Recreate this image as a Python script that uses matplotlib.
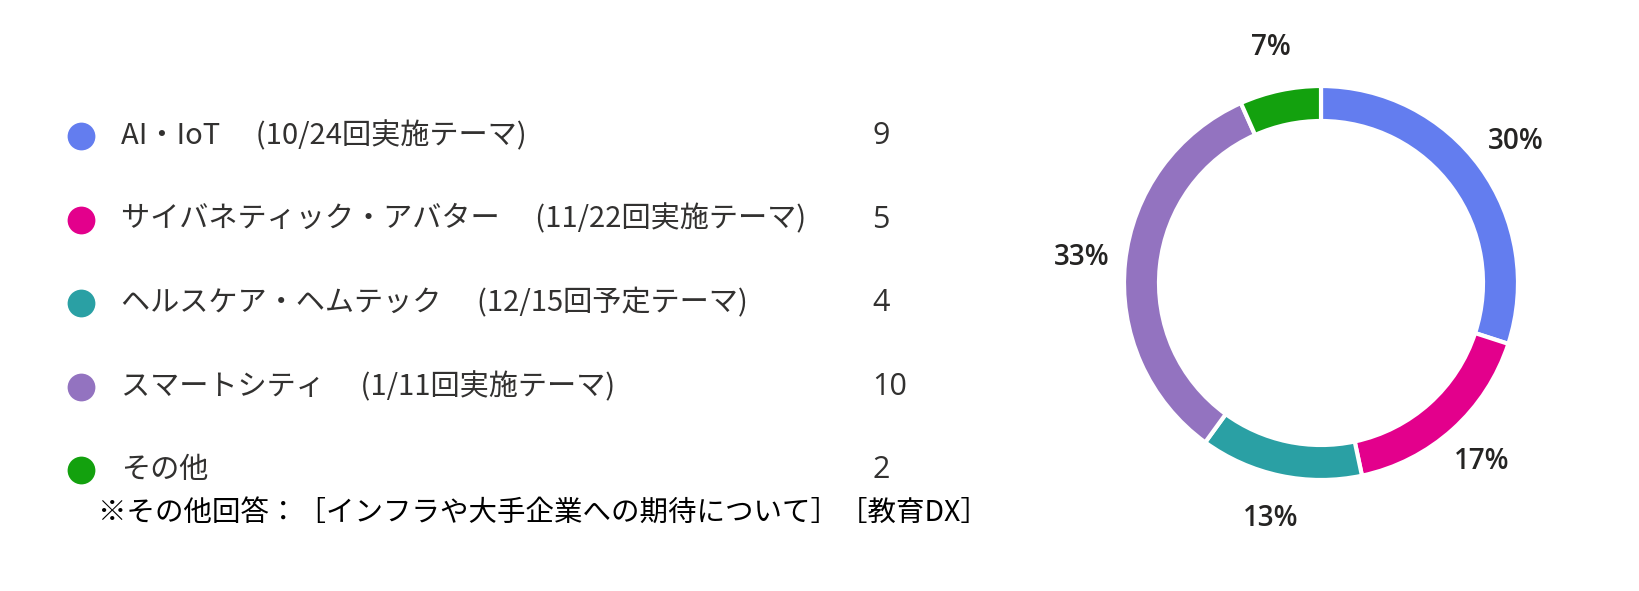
import matplotlib
matplotlib.use("Agg")
import matplotlib.pyplot as plt

plt.rcParams['font.family'] = ['Noto Sans CJK JP', 'DejaVu Sans']

# データ
labels = [
    "AI・IoT　 (10/24回実施テーマ)",
    "サイバネティック・アバター　 (11/22回実施テーマ)",
    "ヘルスケア・ヘムテック　 (12/15回予定テーマ)",
    "スマートシティ　 (1/11回実施テーマ)",
    "その他",
]
counts = [9, 5, 4, 10, 2]
colors = ["#637DEF", "#E3008C", "#2AA0A4", "#9373C0", "#13A10E"]
note = "※その他回答：［インフラや大手企業への期待について］［教育DX］"

W, H = 1639, 591
fig = plt.figure(figsize=(W / 100, H / 100), dpi=100)

# 凡例部分 (ピクセル座標)
ax = fig.add_axes([0, 0, 1, 1])
ax.set_xlim(0, W)
ax.set_ylim(H, 0)
ax.axis("off")

text_col = "#323130"
for i, (lab, n, c) in enumerate(zip(labels, counts, colors)):
    y = 136 + i * 83.6
    ax.scatter([81], [y], s=400, color=c, linewidths=0, zorder=3)
    ax.text(121, y, lab, fontsize=21, color=text_col, va="center", ha="left")
    ax.text(872, y, str(n), fontsize=22, color=text_col, va="center", ha="left",
            family=["Open Sans", "DejaVu Sans"])

ax.text(98, 513, note, fontsize=20.5, color="black", va="center", ha="left")

# ドーナツグラフ
cx, cy, half = 1321, 283, 270
ax2 = fig.add_axes([(cx - half) / W, (H - cy - half) / H, 2 * half / W, 2 * half / H])

R = 197
wedges, _, autotexts = ax2.pie(
    counts, colors=colors, radius=R, startangle=90, counterclock=False,
    wedgeprops=dict(width=35, edgecolor="white", linewidth=3),
    autopct=lambda p: f"{p:.0f}%", pctdistance=1.22,
)
ax2.set_xlim(-half, half)
ax2.set_ylim(-half, half)
ax2.axis("off")
for t in autotexts:
    t.set_fontsize(20)
    t.set_fontweight("semibold")
    t.set_color("#252423")
    t.set_family(["Open Sans", "DejaVu Sans"])

fig.savefig("out.png", dpi=100, facecolor="white")
